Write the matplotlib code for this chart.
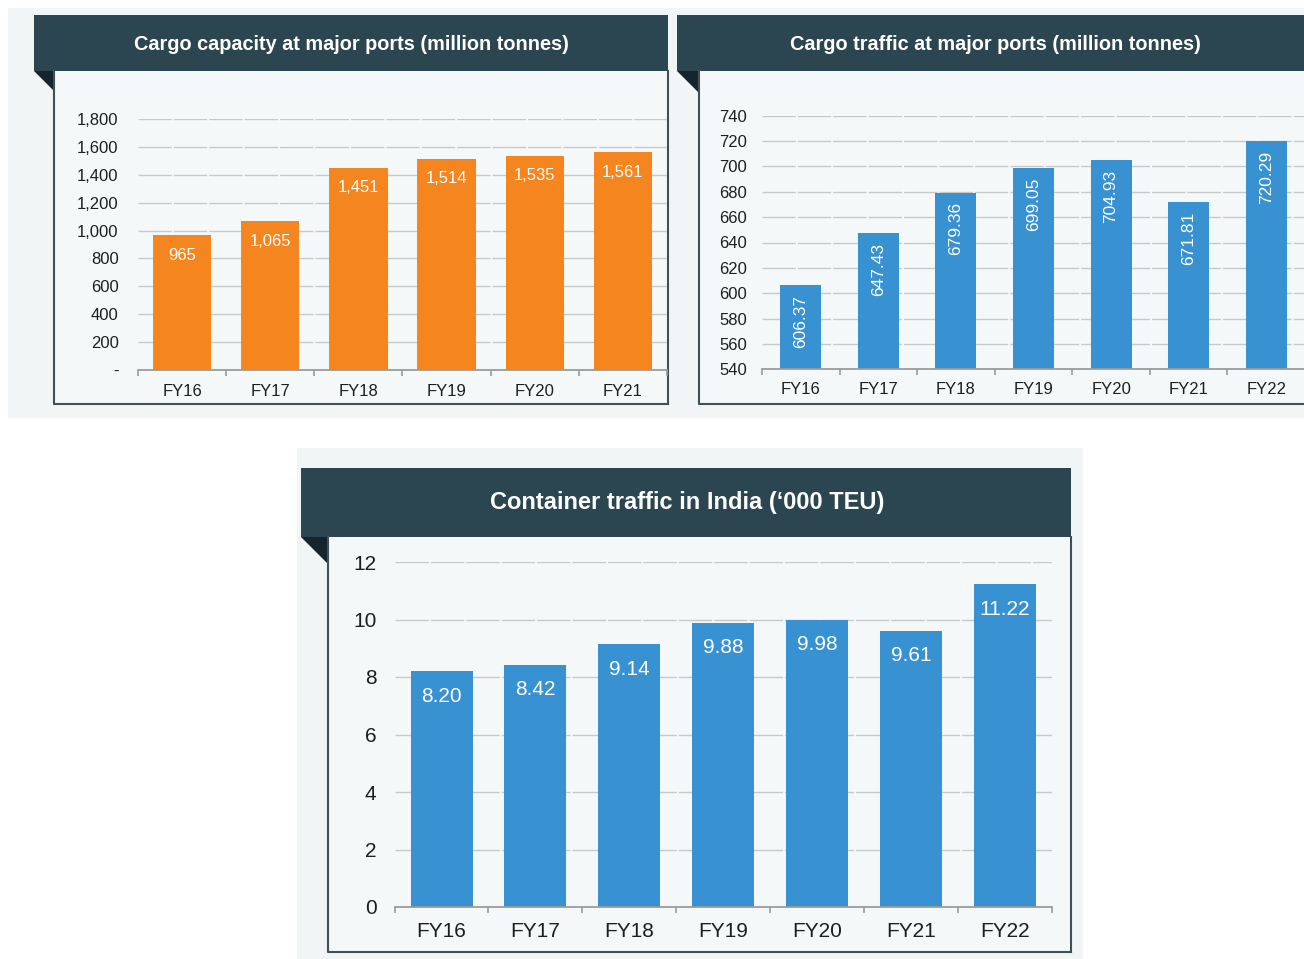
import numpy as np
import matplotlib.pyplot as plt
from matplotlib.patches import Rectangle, Polygon

plt.rcParams['font.family'] = ['Liberation Sans', 'DejaVu Sans']

# Datos ------------- capacidad de carga (millones de toneladas)
anios_cap = ['FY16', 'FY17', 'FY18', 'FY19', 'FY20', 'FY21']
capacidad = [965, 1065, 1451, 1514, 1535, 1561]
ticks_cap = [0, 200, 400, 600, 800, 1000, 1200, 1400, 1600, 1800]
ticks_cap_txt = ['-', '200', '400', '600', '800', '1,000', '1,200', '1,400', '1,600', '1,800']

# Trafico de carga en puertos mayores
anios_trafico = ['FY16', 'FY17', 'FY18', 'FY19', 'FY20', 'FY21', 'FY22']
trafico = [606.37, 647.43, 679.36, 699.05, 704.93, 671.81, 720.29]
ticks_trafico = [540, 560, 580, 600, 620, 640, 660, 680, 700, 720, 740]

# Trafico de contenedores ('000 TEU)
anios_cont = ['FY16', 'FY17', 'FY18', 'FY19', 'FY20', 'FY21', 'FY22']
contenedores = [8.20, 8.42, 9.14, 9.88, 9.98, 9.61, 11.22]
ticks_cont = [0, 2, 4, 6, 8, 10, 12]

W, H = 1304, 959
naranja = '#F5861F'
azul = '#3891D0'
cabecera = '#2B4650'
triangulo = '#16252B'
fondo_panel = '#F2F5F6'
fondo_cuerpo = '#F5F8F9'
borde = '#3F5157'
texto = '#1E1E1E'

fig = plt.figure(figsize=(W / 100, H / 100), dpi=100)
fig.patch.set_facecolor('white')

# Fondo dibujado en pixeles
fondo = fig.add_axes([0, 0, 1, 1])
fondo.set_xlim(0, W)
fondo.set_ylim(H, 0)
fondo.axis('off')
fondo.set_zorder(-1)


def tarjeta(x0, x1, y0, ycab, ybody, xcuerpo, titulo, xt, yt, tam, borde_der=True):
    # cabecera oscura
    fondo.add_patch(Rectangle((x0, y0), x1 - x0, ycab - y0, color=cabecera, lw=0))
    # cuerpo
    fondo.add_patch(Rectangle((xcuerpo, ycab), x1 - xcuerpo, ybody - ycab,
                              facecolor=fondo_cuerpo, edgecolor='none'))
    fondo.plot([xcuerpo, xcuerpo, x1], [ycab, ybody, ybody], color=borde, lw=1.5)
    if borde_der:
        fondo.plot([x1, x1], [ycab, ybody], color=borde, lw=1.5)
    # triangulito
    fondo.add_patch(Polygon([(x0, ycab), (xcuerpo, ycab), (xcuerpo, ycab + (xcuerpo - x0))],
                            color=triangulo, lw=0))
    fondo.text(xt, yt, titulo, color='white', fontsize=tam,
               fontweight='bold', ha='center', va='center')


# paneles claros
fondo.add_patch(Rectangle((8, 8), W - 8, 410, color=fondo_panel, lw=0))
fondo.add_patch(Rectangle((297, 448), 786, H - 448, color=fondo_panel, lw=0))

tarjeta(34, 668, 15, 71, 404, 54, 'Cargo capacity at major ports (million tonnes)', 351, 45, 14.3)
tarjeta(677, 1320, 15, 71, 404, 699, 'Cargo traffic at major ports (million tonnes)', 995, 44, 14.3,
        borde_der=False)
tarjeta(301, 1071, 468, 537, 952, 328, 'Container traffic in India (\u2018000 TEU)', 687, 503, 17)


def eje(x0, y0, x1, y1):
    ax = fig.add_axes([x0 / W, 1 - y1 / H, (x1 - x0) / W, (y1 - y0) / H])
    ax.set_facecolor('none')
    return ax


def estilo(ax, n, tam, pad_x, pad_y):
    ax.set_xlim(-0.5, n - 0.5)
    for s in ['top', 'right', 'left']:
        ax.spines[s].set_visible(False)
    ax.spines['bottom'].set_color('#9B9B9B')
    ax.spines['bottom'].set_linewidth(1.3)
    ax.set_xticks(np.arange(n))
    ax.set_xticks(np.arange(n + 1) - 0.5, minor=True)
    ax.tick_params(axis='x', which='major', length=0, pad=pad_x, labelsize=tam, labelcolor=texto)
    ax.tick_params(axis='x', which='minor', length=4, width=1.2, color='#9B9B9B')
    ax.tick_params(axis='y', length=0, pad=pad_y, labelsize=tam, labelcolor=texto)
    ax.yaxis.grid(True, color='#C8C8C8', lw=1.0, linestyle=(0, (24, 1.5)))
    ax.set_axisbelow(True)


# Grafico 1: capacidad
ax1 = eje(138, 119, 667, 370)
x = np.arange(len(anios_cap))
ax1.bar(x, capacidad, 0.66, color=naranja)
ax1.set_ylim(0, 1800)
ax1.set_yticks(ticks_cap)
ax1.set_yticklabels(ticks_cap_txt)
ax1.set_xticklabels(anios_cap)
estilo(ax1, len(anios_cap), 12, 10, 14)
for xi, v in zip(x, capacidad):
    ax1.annotate(f'{v:,}', (xi, v), xytext=(0, -9), textcoords='offset points',
                 ha='center', va='top', color='white', fontsize=12)

# Grafico 2: trafico
ax2 = eje(762, 115.7, 1305, 369.3)
x = np.arange(len(anios_trafico))
ax2.bar(x, trafico, 0.53, color=azul)
ax2.set_ylim(540, 740)
ax2.set_yticks(ticks_trafico)
ax2.set_xticklabels(anios_trafico)
estilo(ax2, len(anios_trafico), 12, 9, 11)
for xi, v in zip(x, trafico):
    ax2.annotate(f'{v:.2f}', (xi, v), xytext=(0, -7), textcoords='offset points',
                 ha='center', va='top', rotation=90, color='white', fontsize=12.5)

# Grafico 3: contenedores
ax3 = eje(394.6, 562, 1051.7, 907)
x = np.arange(len(anios_cont))
ax3.bar(x, contenedores, 0.66, color=azul)
ax3.set_ylim(0, 12)
ax3.set_yticks(ticks_cont)
ax3.set_xticklabels(anios_cont)
estilo(ax3, len(anios_cont), 15, 11, 13)
for xi, v in zip(x, contenedores):
    ax3.annotate(f'{v:.2f}', (xi, v), xytext=(0, -11), textcoords='offset points',
                 ha='center', va='top', color='white', fontsize=15)

plt.savefig('out.png', dpi=100, facecolor='white')
